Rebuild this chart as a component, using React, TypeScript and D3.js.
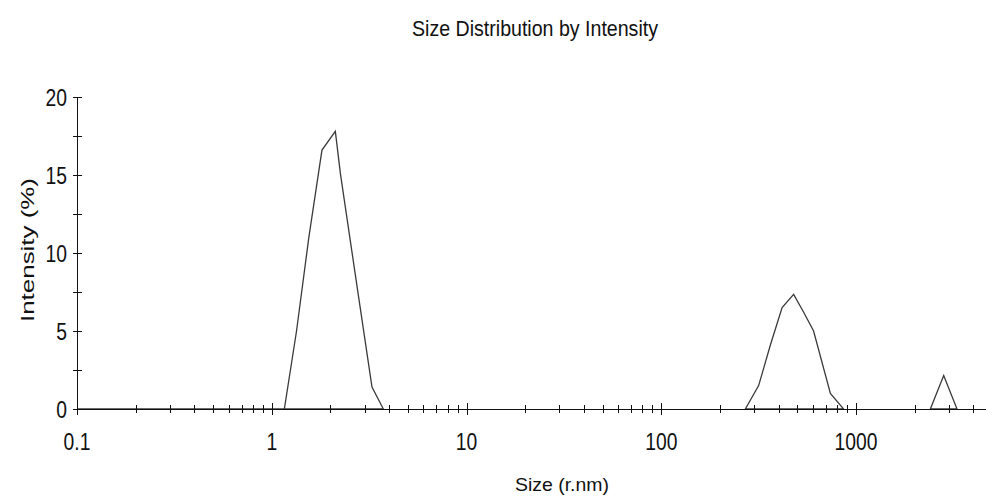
import React from "react";
import * as d3 from "d3";

const TITLE = "Size Distribution by Intensity";
const X_TITLE = "Size (r.nm)";
const Y_TITLE = "Intensity (%)";

// Peak series: [size (r.nm), intensity (%)]
const peak1: [number, number][] = [
  [0.1, 0], [1.16, 0], [1.34, 5.0], [1.55, 11.0], [1.81, 16.6], [2.12, 17.8],
  [2.25, 15.1], [2.79, 7.2], [3.27, 1.4], [3.74, 0],
];
const peak2: [number, number][] = [
  [270, 0], [316, 1.5], [363, 4.1], [417, 6.5], [478, 7.35], [538, 6.2],
  [605, 5.0], [738, 1.0], [863, 0],
];
const peak3: [number, number][] = [
  [2406, 0], [2817, 2.15], [3298, 0],
];
const peaks = [peak1, peak2, peak3];

const xMajorTicks = [0.1, 1, 10, 100, 1000];
const xTickLabels = ["0.1", "1", "10", "100", "1000"];
const xMinorTicks = [
  0.2, 0.3, 0.4, 0.5, 0.6, 0.7, 0.8, 0.9,
  2, 3, 4, 5, 6, 7, 8, 9,
  20, 30, 40, 50, 60, 70, 80, 90,
  200, 300, 400, 500, 600, 700, 800, 900,
  2000, 3000, 4000,
];
const yMajorTicks = [0, 5, 10, 15, 20];
const yMinorTicks = [2.5, 7.5, 12.5, 17.5];

const W = 986;
const H = 496;
const FONT = "'Liberation Sans', Arial, sans-serif";

export default function App() {
  const x = d3.scaleLog().domain([0.1, 4645]).range([77, 986]);
  const y = d3.scaleLinear().domain([0, 20]).range([409, 97]);
  const line = d3
    .line<[number, number]>()
    .x((d) => x(d[0]))
    .y((d) => y(d[1]));

  const x0 = 77;
  const y0 = 409;

  return (
    <svg
      width={W}
      height={H}
      viewBox={`0 0 ${W} ${H}`}
      style={{ position: "absolute", left: 0, top: 0, background: "#fff" }}
    >
      <rect x={0} y={0} width={W} height={H} fill="#fff" />
      {/* Title */}
      <text
        x={412}
        y={36}
        fontFamily={FONT}
        fontSize={22}
        textLength={246}
        lengthAdjust="spacingAndGlyphs"
        fill="#111"
      >
        {TITLE}
      </text>

      {/* Data */}
      {peaks.map((p, i) => (
        <path
          key={i}
          d={(line(p) || "") + "Z"}
          fill="none"
          stroke="#3a3a3a"
          strokeWidth={1.3}
        />
      ))}

      {/* Axes */}
      <g shapeRendering="crispEdges" stroke="#111" strokeWidth={1}>
        <line x1={x0 + 0.5} x2={x0 + 0.5} y1={y(20)} y2={y0} />
        <line x1={x0} x2={W} y1={y0 + 0.5} y2={y0 + 0.5} />
        {yMajorTicks.concat(yMinorTicks).map((t) => (
          <line
            key={"yt" + t}
            x1={73}
            x2={82}
            y1={Math.round(y(t)) + 0.5}
            y2={Math.round(y(t)) + 0.5}
          />
        ))}
        {xMajorTicks.map((t) => (
          <line
            key={"xM" + t}
            x1={Math.round(x(t)) + 0.5}
            x2={Math.round(x(t)) + 0.5}
            y1={403}
            y2={415}
          />
        ))}
        {xMinorTicks.map((t) => (
          <line
            key={"xm" + t}
            x1={Math.round(x(t)) + 0.5}
            x2={Math.round(x(t)) + 0.5}
            y1={405}
            y2={413}
          />
        ))}
      </g>

      {/* Y tick labels */}
      {yMajorTicks.map((t) => (
        <text
          key={"yl" + t}
          transform={`translate(67,${y(t) + 9}) scale(0.84,1)`}
          textAnchor="end"
          fontFamily={FONT}
          fontSize={23}
          fill="#111"
        >
          {String(t)}
        </text>
      ))}

      {/* X tick labels */}
      {xMajorTicks.map((t, i) => (
        <text
          key={"xl" + t}
          transform={`translate(${x(t)},450) scale(0.84,1)`}
          textAnchor="middle"
          fontFamily={FONT}
          fontSize={23}
          fill="#111"
        >
          {xTickLabels[i]}
        </text>
      ))}

      {/* Axis titles */}
      <text
        x={515}
        y={491}
        fontFamily={FONT}
        fontSize={19}
        textLength={94}
        lengthAdjust="spacingAndGlyphs"
        fill="#111"
      >
        {X_TITLE}
      </text>
      <text
        transform={`translate(34,322) rotate(-90)`}
        fontFamily={FONT}
        fontSize={19}
        textLength={144}
        lengthAdjust="spacingAndGlyphs"
        fill="#111"
      >
        {Y_TITLE}
      </text>
    </svg>
  );
}
